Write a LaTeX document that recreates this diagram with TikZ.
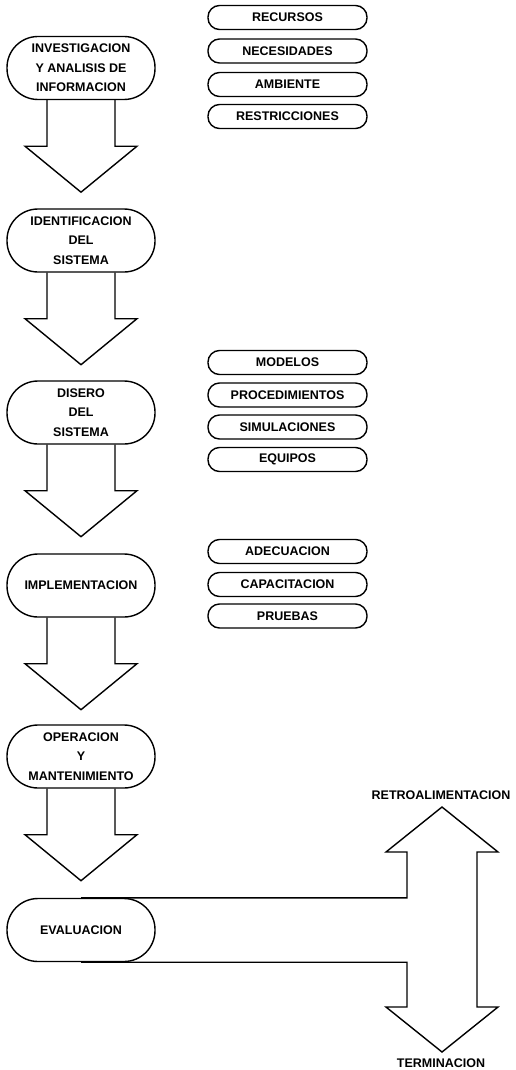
\documentclass[tikz,border=0pt]{standalone}
\usepackage{fontspec}
\setmainfont{Liberation Sans}
\begin{document}
\begin{tikzpicture}[x=1pt,y=-1pt,
  every node/.style={font=\bfseries\fontsize{12.5}{19.5}\selectfont},
  bigbox/.style={draw,line width=1.4pt,minimum width=148pt,minimum height=63pt,rounded corners=31pt,inner sep=0pt,align=center},
  smallbox/.style={draw,line width=1.4pt,minimum width=159pt,minimum height=24pt,rounded corners=11.5pt,inner sep=0pt},
  blk/.style={draw,line width=1.4pt,line join=miter},
  lbl/.style={inner sep=0pt}]
\useasboundingbox (0,0) rectangle (516,1070);
\newcommand\blockarr[1]{%
  \draw[blk] ([xshift=-34pt]#1.south) -- ++(0,46) -- ++(-22,0) -- ++(56,46) -- ++(56,-46) -- ++(-22,0) -- ++(0,-46);}
% main column
\node[bigbox] (inv) at (81,68) {INVESTIGACION\\Y ANALISIS DE\\INFORMACION};
\node[bigbox] (ide) at (81,240.5) {IDENTIFICACION\\DEL\\SISTEMA};
\node[bigbox] (dis) at (81,412.5) {DISERO\\DEL\\SISTEMA};
\node[bigbox] (imp) at (81,585.5) {IMPLEMENTACION};
\node[bigbox] (ope) at (81,756.5) {OPERACION\\Y\\MANTENIMIENTO};
\node[bigbox] (eva) at (81,930) {EVALUACION};
\blockarr{inv}
\blockarr{ide}
\blockarr{dis}
\blockarr{imp}
\blockarr{ope}
% side lists
\node[smallbox] (rec) at (287.5,17.5) {RECURSOS};
\node[smallbox] (nec) at (287.5,51) {NECESIDADES};
\node[smallbox] (amb) at (287.5,84.5) {AMBIENTE};
\node[smallbox] (res) at (287.5,116.5) {RESTRICCIONES};
\node[smallbox] (mod) at (287.5,362.5) {MODELOS};
\node[smallbox] (pro) at (287.5,395) {PROCEDIMIENTOS};
\node[smallbox] (sim) at (287.5,427) {SIMULACIONES};
\node[smallbox] (equ) at (287.5,459.5) {EQUIPOS};
\node[smallbox] (ade) at (287.5,551.5) {ADECUACION};
\node[smallbox] (cap) at (287.5,584.5) {CAPACITACION};
\node[smallbox] (pru) at (287.5,616) {PRUEBAS};
% feedback / termination double arrow
\coordinate (sl) at (407,0);
\coordinate (sr) at (477,0);
\coordinate (tu) at (442,807);
\coordinate (td) at (442,1052);
\draw[blk] (eva.north) -- (sl |- eva.north) -- (407,852) -- (386,852) -- (tu) -- (498,852) -- (477,852)
  -- (477,1007) -- (498,1007) -- (td) -- (386,1007) -- (407,1007) -- (sl |- eva.south) -- (eva.south);
\node[lbl] (retro) at (441,795) {RETROALIMENTACION};
\node[lbl] (term) at (441,1063) {TERMINACION};
\end{tikzpicture}
\end{document}
